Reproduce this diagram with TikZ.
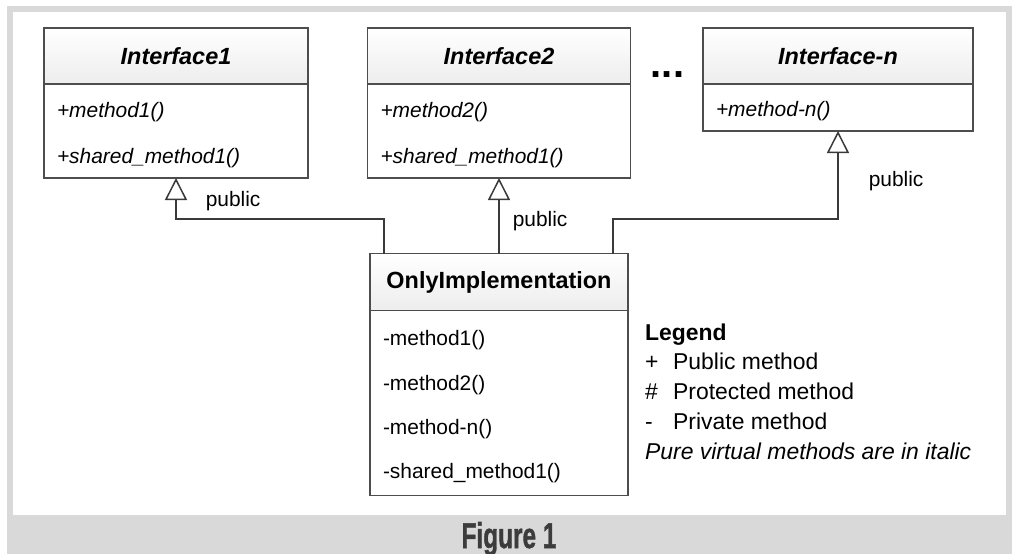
\documentclass[tikz,border=0pt]{standalone}
\usepackage{fontspec}
\setmainfont{Liberation Sans}
\newfontfamily\capfont[FakeBold=1.5]{Liberation Sans}
\usepackage{tikz}
\usetikzlibrary{arrows.meta,positioning}

\definecolor{framegray}{HTML}{D9D9D9}
\definecolor{boxgray}{HTML}{4D4D4D}
\definecolor{wiregray}{HTML}{3A3A3A}
\definecolor{headgray}{HTML}{EDEDED}
\definecolor{capgray}{HTML}{3C3C3C}

\newcommand{\titlefont}{\fontsize{23.5}{28}\selectfont\bfseries}
\newcommand{\itemfont}{\fontsize{21}{46.5}\selectfont}
\newcommand{\topgap}{\rule{0pt}{23bp}}

\tikzset{
  classhead/.style={draw=boxgray, line width=1.5bp, top color=white, bottom color=headgray,
    minimum height=56bp, inner sep=0pt, outer sep=0pt, font=\titlefont},
  classbody/.style={draw=boxgray, line width=1.5bp, fill=white, align=left,
    inner xsep=13bp, inner ysep=0pt, outer sep=0pt, font=\itemfont},
  realizes/.style={draw=wiregray, line width=1.5bp,
    -{Triangle[open, length=22bp, width=22bp]}},
  lbl/.style={font=\fontsize{21}{24}\selectfont, inner sep=0pt}
}

\begin{document}
\begin{tikzpicture}
	\useasboundingbox (0bp,0bp) rectangle (1017bp,-554bp);
	\fill[framegray] (7bp,-6bp) rectangle (1012bp,-554bp);
	\fill[white] (13bp,-12bp) rectangle (1006bp,-515bp);

	% interfaces
	\node (if1h) at (176bp,-56bp)  [classhead, minimum width=264bp] {\itshape Interface1};
	\node (if1b) [classbody, below=0pt of if1h, text width=238bp, minimum height=94bp]
		{\topgap\itshape +method1()\\\itshape +shared\_method1()};
	\node (if2h) at (499bp,-56bp)  [classhead, minimum width=263bp] {\itshape Interface2};
	\node (if2b) [classbody, below=0pt of if2h, text width=237bp, minimum height=94bp]
		{\topgap\itshape +method2()\\\itshape +shared\_method1()};
	\node (ifnh) at (838bp,-56bp)  [classhead, minimum width=270bp] {\itshape Interface-n};
	\node (ifnb) [classbody, below=0pt of ifnh, text width=244bp, minimum height=47bp]
		{\topgap\itshape +method-n()};
	\node (dots) at (667.5bp,-75bp) [font=\fontsize{40}{40}\selectfont\bfseries, inner sep=0pt] {...};

	% implementation
	\node (implh) at (499bp,-282bp) [classhead, minimum width=258bp, minimum height=57bp] {OnlyImplementation};
	\node (implb) [classbody, below=0pt of implh, text width=232bp, minimum height=185bp,
		font=\fontsize{21}{44.5}\selectfont]
		{\topgap-method1()\\-method2()\\-method-n()\\-shared\_method1()};

	% inheritance
	\draw [realizes] ([xshift=14bp]implh.north west) |- ([yshift=-41bp]if1b.south)
		-- node[lbl, pos=0.44, right=29bp] {public} (if1b.south);
	\draw [realizes] (implh.north) -- node[lbl, pos=0.43, right=13bp] {public} (if2b.south);
	\draw [realizes] ([xshift=-15bp]implh.north east) |- ([yshift=-88bp]ifnb.south)
		-- node[lbl, pos=0.43, right=30bp] {public} (ifnb.south);

	% legend
	\node (legend) at (645bp,-340bp) [anchor=base west, inner sep=0pt, font=\fontsize{23}{30}\selectfont]
		{\begin{tabular}[t]{@{}l@{\hspace{14.6bp}}l@{}}
			\multicolumn{2}{@{}l@{}}{\bfseries Legend}\\
			+ & Public method\\
			\# & Protected method\\
			- & Private method\\
			\multicolumn{2}{@{}l@{}}{\itshape Pure virtual methods are in italic}
		\end{tabular}};

	\node (caption) at (509bp,-548bp) [anchor=base, inner sep=0pt, text=capgray,
		font=\capfont\fontsize{36}{36}\selectfont\bfseries] {\scalebox{0.68}[1]{Figure 1}};
\end{tikzpicture}
\end{document}
